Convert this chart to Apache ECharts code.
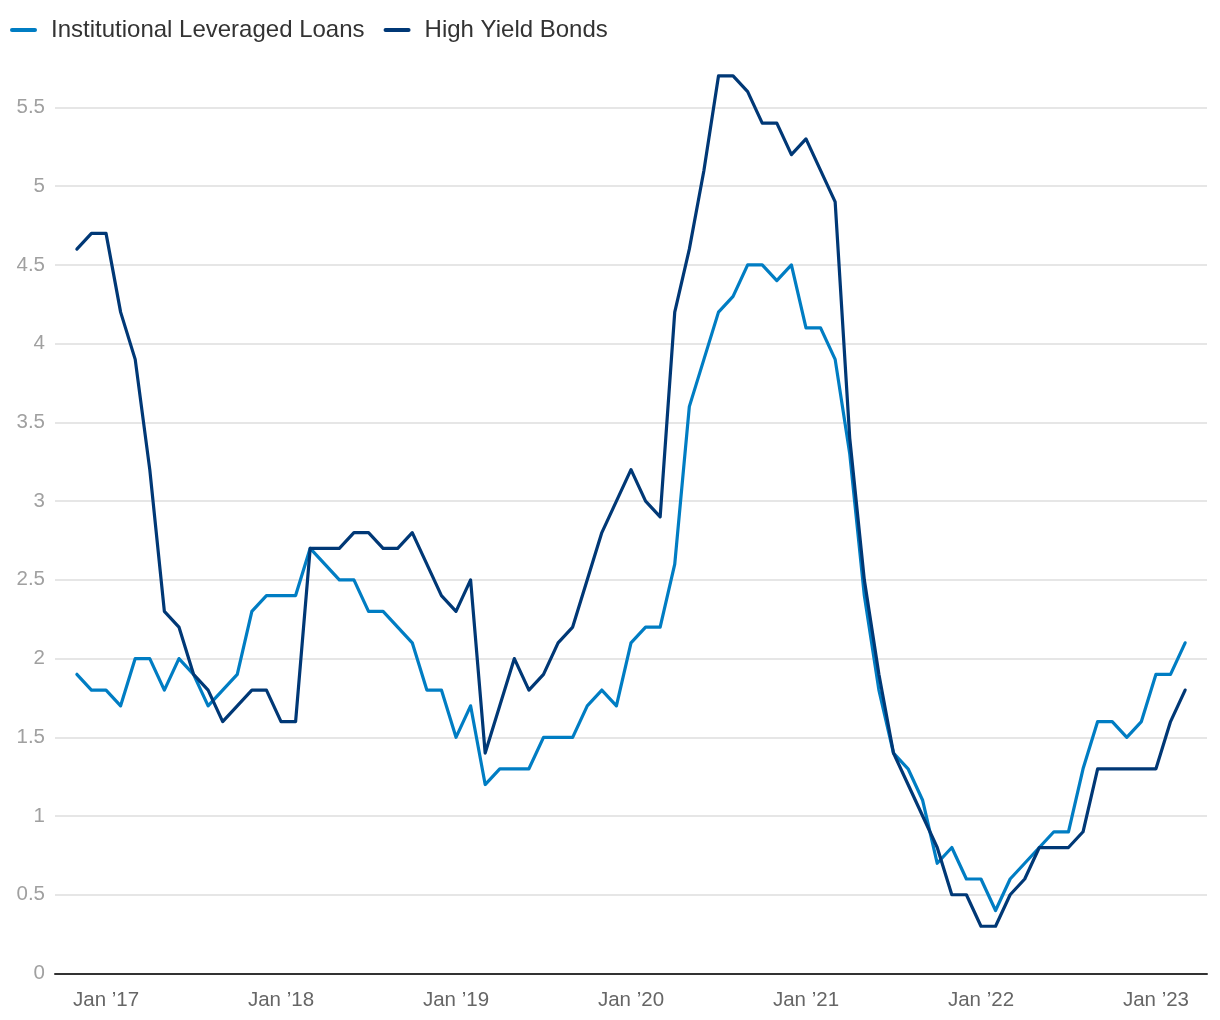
<!DOCTYPE html>
<html>
<head>
<meta charset="utf-8">
<script src="https://cdn.jsdelivr.net/npm/echarts@6/dist/echarts.min.js"></script>
<style>
html,body{margin:0;padding:0;background:#fff;}
#chart{width:1220px;height:1020px;}
</style>
</head>
<body>
<div id="chart"></div>
<script>
// Monthly, Nov 2016 .. Mar 2023
const months = [];
(function(){ let y=2016, m=11; while (y<2023 || (y===2023 && m<=3)) { months.push(y+'-'+String(m).padStart(2,'0')); m++; if(m>12){m=1;y++;} } })();

const seriesNames = ['Institutional Leveraged Loans', 'High Yield Bonds'];

const loans = [
  1.9,1.8,1.8,1.7,2.0,2.0,1.8,2.0,1.9,1.7,1.8,1.9,2.3,2.4,2.4,2.4,
  2.7,2.6,2.5,2.5,2.3,2.3,2.2,2.1,1.8,1.8,1.5,1.7,1.2,1.3,1.3,1.3,
  1.5,1.5,1.5,1.7,1.8,1.7,2.1,2.2,2.2,2.6,3.6,3.9,4.2,4.3,4.5,4.5,
  4.4,4.5,4.1,4.1,3.9,3.3,2.4,1.8,1.4,1.3,1.1,0.7,0.8,0.6,0.6,0.4,
  0.6,0.7,0.8,0.9,0.9,1.3,1.6,1.6,1.5,1.6,1.9,1.9,2.1
];
const bonds = [
  4.6,4.7,4.7,4.2,3.9,3.2,2.3,2.2,1.9,1.8,1.6,1.7,1.8,1.8,1.6,1.6,
  2.7,2.7,2.7,2.8,2.8,2.7,2.7,2.8,2.6,2.4,2.3,2.5,1.4,1.7,2.0,1.8,
  1.9,2.1,2.2,2.5,2.8,3.0,3.2,3.0,2.9,4.2,4.6,5.1,5.7,5.7,5.6,5.4,
  5.4,5.2,5.3,5.1,4.9,3.4,2.5,1.9,1.4,1.2,1.0,0.8,0.5,0.5,0.3,0.3,
  0.5,0.6,0.8,0.8,0.8,0.9,1.3,1.3,1.3,1.3,1.3,1.6,1.8
];
const yTicks = [0,0.5,1,1.5,2,2.5,3,3.5,4,4.5,5,5.5];

// one empty category on each side gives the plot its side padding
const cats = [''].concat(months, ['']);
const pad = arr => [null].concat(arr, [null]);

const FONT = "'Liberation Sans', Arial, Helvetica, sans-serif";
const chart = echarts.init(document.getElementById('chart'), null, {renderer:'canvas'});
chart.setOption({
  animation:false,
  backgroundColor:'#ffffff',
  color:['#007dc3','#003876'],
  textStyle:{fontFamily:FONT},
  legend:{
    left:5, top:13,
    itemWidth:27, itemHeight:4, itemGap:19,
    icon:'path://M2,0 H25 A2,2 0 0 1 25,4 H2 A2,2 0 0 1 2,0 Z',
    textStyle:{fontSize:24, color:'#333333', fontFamily:FONT, padding:[0,0,0,9]},
    data:seriesNames
  },
  grid:{left:55, right:13, top:28.7, bottom:46.5, containLabel:false},
  xAxis:{
    type:'category',
    data:cats,
    boundaryGap:true,
    axisLine:{show:true, lineStyle:{color:'#333333', width:2}},
    axisTick:{show:false},
    splitLine:{show:false},
    axisLabel:{
      interval:(idx,val)=>/-01$/.test(val),
      formatter:val=>'Jan \u2019'+val.slice(2,4),
      fontSize:20.5, color:'#666666', margin:16, fontFamily:FONT
    }
  },
  yAxis:{
    type:'value',
    min:0, max:6, interval:0.5,
    axisLine:{show:false},
    axisTick:{show:false},
    splitLine:{show:true, showMaxLine:false, lineStyle:{color:'#e6e6e6', width:2}},
    axisLabel:{
      fontSize:20.5, color:'#a0a0a0', margin:10, fontFamily:FONT,
      showMaxLabel:false,
      formatter:v=> yTicks.indexOf(v)>=0 ? String(v) : ''
    }
  },
  series:[
    {name:seriesNames[0], type:'line', data:pad(loans), symbol:'none', connectNulls:false,
     lineStyle:{width:3.2, color:'#007dc3', join:'round', cap:'round'}, z:2},
    {name:seriesNames[1], type:'line', data:pad(bonds), symbol:'none', connectNulls:false,
     lineStyle:{width:3.2, color:'#003876', join:'round', cap:'round'}, z:3}
  ]
});
</script>
</body>
</html>
